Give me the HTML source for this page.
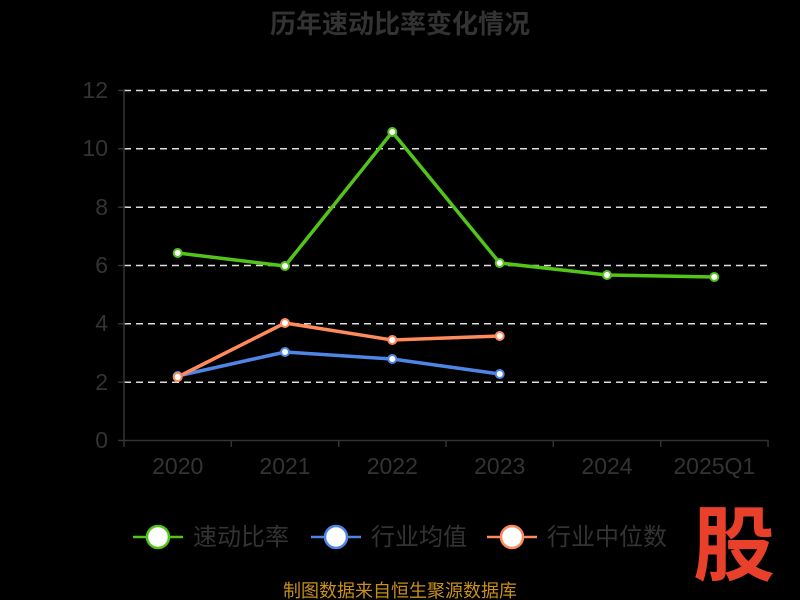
<!DOCTYPE html>
<html><head><meta charset="utf-8"><style>
html,body{margin:0;padding:0;background:#000;}
svg{display:block;font-family:"Liberation Sans","Noto Sans CJK SC",sans-serif;}
</style></head><body>
<svg width="800" height="600" viewBox="0 0 800 600" xmlns="http://www.w3.org/2000/svg">
<rect width="800" height="600" fill="#000"/>
<text x="400" y="33" text-anchor="middle" font-size="26" font-weight="bold" fill="#333">历年速动比率变化情况</text>
<g stroke="#ddd" stroke-width="1.5" stroke-dasharray="7,5">
<line x1="124" y1="90.5" x2="768" y2="90.5"/>
<line x1="124" y1="148.8" x2="768" y2="148.8"/>
<line x1="124" y1="207.2" x2="768" y2="207.2"/>
<line x1="124" y1="265.5" x2="768" y2="265.5"/>
<line x1="124" y1="323.8" x2="768" y2="323.8"/>
<line x1="124" y1="382.2" x2="768" y2="382.2"/>
</g>
<g stroke="#333" stroke-width="1.5">
<line x1="124" y1="90" x2="124" y2="441"/>
<line x1="124" y1="440.5" x2="768" y2="440.5"/>
<line x1="118" y1="90.5" x2="124" y2="90.5"/><line x1="118" y1="148.8" x2="124" y2="148.8"/>
<line x1="118" y1="207.2" x2="124" y2="207.2"/><line x1="118" y1="265.5" x2="124" y2="265.5"/>
<line x1="118" y1="323.8" x2="124" y2="323.8"/><line x1="118" y1="382.2" x2="124" y2="382.2"/>
<line x1="118" y1="440.5" x2="124" y2="440.5"/>
<line x1="124" y1="440" x2="124" y2="447"/><line x1="231.3" y1="440" x2="231.3" y2="447"/>
<line x1="338.7" y1="440" x2="338.7" y2="447"/><line x1="446" y1="440" x2="446" y2="447"/>
<line x1="553.3" y1="440" x2="553.3" y2="447"/><line x1="660.7" y1="440" x2="660.7" y2="447"/>
<line x1="768" y1="440" x2="768" y2="447"/>
</g>
<g font-size="23" fill="#333" text-anchor="end">
<text x="108" y="98">12</text><text x="108" y="156">10</text><text x="108" y="215">8</text>
<text x="108" y="273">6</text><text x="108" y="331">4</text><text x="108" y="390">2</text><text x="108" y="448">0</text>
</g>
<g font-size="23" fill="#333" text-anchor="middle">
<text x="177.7" y="474">2020</text><text x="285" y="474">2021</text><text x="392.3" y="474">2022</text>
<text x="499.7" y="474">2023</text><text x="607" y="474">2024</text><text x="714.3" y="474">2025Q1</text>
</g>
<g fill="none" stroke-width="3.5">
<polyline stroke="#52c41a" points="177.7,253 285,266 392.3,132 499.7,263 607,275 714.3,277"/>
<polyline stroke="#4f86e6" points="177.7,376 285,352 392.3,359 499.7,374"/>
<polyline stroke="#ff8a5b" points="177.7,377 285,323 392.3,340 499.7,336"/>
</g>
<g fill="#fff" stroke-width="2">
<g stroke="#52c41a"><circle cx="177.7" cy="253" r="4"/><circle cx="285" cy="266" r="4"/><circle cx="392.3" cy="132" r="4"/><circle cx="499.7" cy="263" r="4"/><circle cx="607" cy="275" r="4"/><circle cx="714.3" cy="277" r="4"/></g>
<g stroke="#4f86e6"><circle cx="177.7" cy="376" r="4"/><circle cx="285" cy="352" r="4"/><circle cx="392.3" cy="359" r="4"/><circle cx="499.7" cy="374" r="4"/></g>
<g stroke="#ff8a5b"><circle cx="177.7" cy="377" r="4"/><circle cx="285" cy="323" r="4"/><circle cx="392.3" cy="340" r="4"/><circle cx="499.7" cy="336" r="4"/></g>
</g>
<g stroke-width="2.5">
<line x1="133" y1="537" x2="183" y2="537" stroke="#52c41a"/><ellipse cx="158" cy="537" rx="11" ry="11" fill="#fff" stroke="#52c41a"/>
<line x1="311" y1="537" x2="361" y2="537" stroke="#4f86e6"/><ellipse cx="336" cy="537" rx="11" ry="11" fill="#fff" stroke="#4f86e6"/>
<line x1="487" y1="537" x2="537" y2="537" stroke="#ff8a5b"/><ellipse cx="512" cy="537" rx="11" ry="11" fill="#fff" stroke="#ff8a5b"/>
</g>
<g font-size="24" fill="#333">
<text x="193" y="545">速动比率</text><text x="371" y="545">行业均值</text><text x="547" y="545">行业中位数</text>
</g>
<text x="734" y="574" text-anchor="middle" font-size="82" font-weight="bold" fill="#e8402a">股</text>
<text x="400" y="597" text-anchor="middle" font-size="18" fill="#c8901a">制图数据来自恒生聚源数据库</text>
</svg>
</body></html>
